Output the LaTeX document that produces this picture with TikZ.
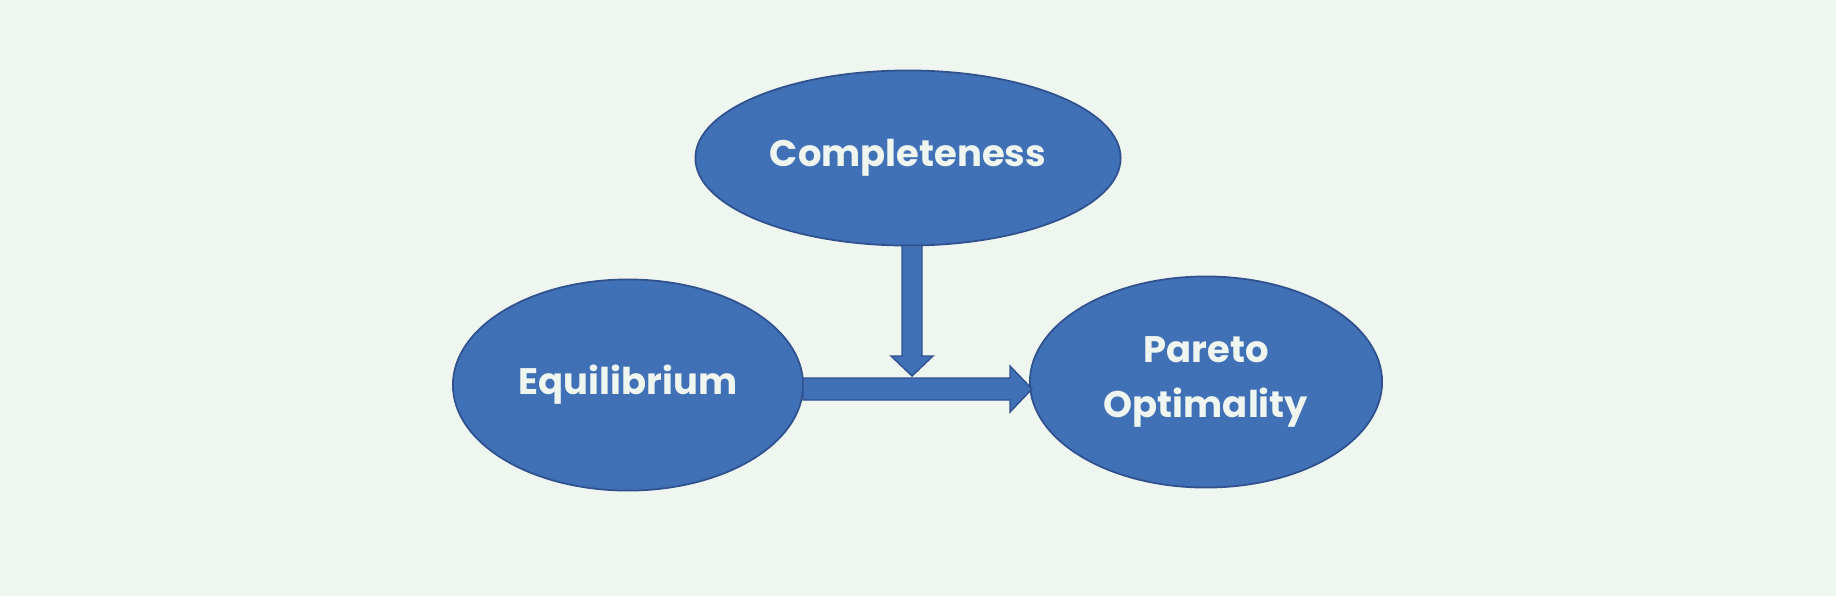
\documentclass[tikz,border=0pt]{standalone}
\usepackage{fontspec}
\setmainfont{Poppins}[BoldFont={* Bold}]
\usetikzlibrary{calc,shapes.geometric}
\tikzset{>=latex}
\definecolor{bgcol}{RGB}{239,245,239}
\definecolor{ellcol}{RGB}{64,112,181}
\definecolor{edgecol}{RGB}{47,82,143}
\tikzstyle{bubble}=[ellipse,fill=ellcol,draw=edgecol,line width=0.5pt,inner sep=0,
  text=bgcol,font=\bfseries\fontsize{10.5}{15.5}\selectfont,align=center]
\tikzstyle{arrowbox}=[fill=ellcol,draw=edgecol,line width=0.4pt,line join=miter]

\begin{document}
\begin{tikzpicture}[x=0.01cm,y=-0.01cm]
  \def\sw{10}  % half shaft width
  \def\hw{21}  % half head width
  \def\hl{20}  % head length

  % BACKGROUND
  \fill[bgcol] (0,0) rectangle (1836,596);
  \useasboundingbox (0,0) rectangle (1836,596);

  % NODES
  \node[bubble,minimum width=4.25cm,minimum height=1.75cm] (comp) at (908,158) {Completeness};
  \node[bubble,minimum width=3.50cm,minimum height=2.11cm] (equi) at (628,385) {Equilibrium};
  \node[bubble,minimum width=3.52cm,minimum height=2.11cm] (pareto) at (1206,382) {Pareto\\Optimality};
  \coordinate (vtip) at (912,376);
  \coordinate (htip) at (1032,389);

  % ARROWS
  \draw[arrowbox] ($(comp.south -| vtip)+(-\sw,-1)$) -- ($(vtip)+(-\sw,-\hl)$)
    -- ($(vtip)+(-\hw,-\hl)$) -- (vtip) -- ($(vtip)+(\hw,-\hl)$)
    -- ($(vtip)+(\sw,-\hl)$) -- ($(comp.south -| vtip)+(\sw,-1)$) -- cycle;
  \draw[arrowbox] ($(equi.east |- htip)+(-1,-11)$) -- ($(htip)+(-22,-11)$)
    -- ($(htip)+(-22,-23)$) -- (htip) -- ($(htip)+(-22,23)$)
    -- ($(htip)+(-22,11)$) -- ($(equi.east |- htip)+(-1,11)$) -- cycle;

\end{tikzpicture}
\end{document}
